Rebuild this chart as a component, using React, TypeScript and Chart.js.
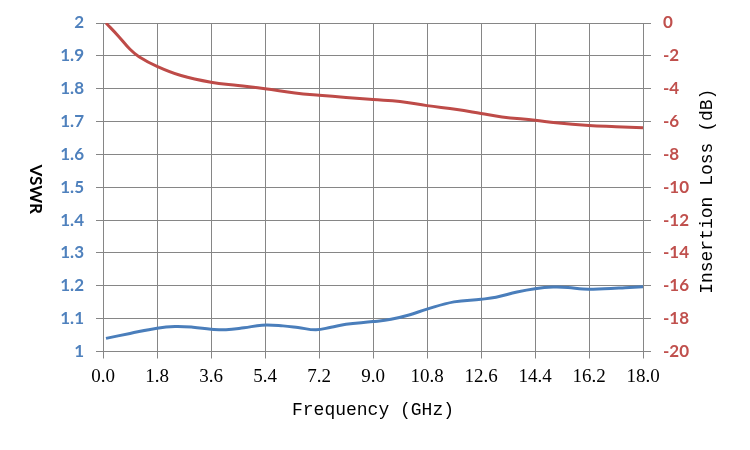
import React, { useEffect, useRef } from "react";
import { Chart, registerables } from "chart.js";

Chart.register(...registerables);

// X axis tick labels (GHz)
const xTicks = [0, 1.8, 3.6, 5.4, 7.2, 9.0, 10.8, 12.6, 14.4, 16.2, 18.0];
// Left axis ticks (VSWR)
const vswrTicks = [1, 1.1, 1.2, 1.3, 1.4, 1.5, 1.6, 1.7, 1.8, 1.9, 2];
// Right axis ticks (dB)
const ilTicks = [-20, -18, -16, -14, -12, -10, -8, -6, -4, -2, 0];

// Insertion loss series
const ilFreq = [0.1, 0.5, 0.9, 1.2, 1.8, 2.6, 3.6, 4.5, 5.4, 6.4, 7.2, 8.1, 9.0, 9.9, 10.8, 11.8, 12.6, 13.3, 14.4, 15.1, 16.2, 17.1, 18.0];
const ilValues = [0, -0.77, -1.6, -2.05, -2.64, -3.2, -3.61, -3.81, -4.0, -4.26, -4.4, -4.53, -4.66, -4.78, -5.03, -5.27, -5.51, -5.72, -5.92, -6.08, -6.24, -6.31, -6.38];

// VSWR series
const vswrFreq = [0.1, 0.9, 1.8, 2.4, 3.0, 3.6, 4.1, 4.7, 5.3, 6.0, 6.5, 7.1, 7.6, 8.1, 9.0, 9.6, 10.2, 10.8, 11.7, 12.6, 13.1, 13.8, 14.4, 15.0, 15.5, 16.0, 16.7, 17.4, 18.0];
const vswrValues = [1.04, 1.055, 1.071, 1.076, 1.074, 1.068, 1.066, 1.072, 1.08, 1.078, 1.073, 1.066, 1.074, 1.083, 1.091, 1.098, 1.111, 1.129, 1.151, 1.159, 1.165, 1.181, 1.191, 1.196, 1.195, 1.19, 1.191, 1.194, 1.197];

const xTitle = "Frequency (GHz)";
const leftTitle = "VSWR";
const rightTitle = "Insertion Loss (dB)";

const titlesPlugin = {
  id: "customTitles",
  afterDraw(chart: any) {
    const { ctx, chartArea } = chart;
    const midY = (chartArea.top + chartArea.bottom) / 2;
    ctx.save();
    ctx.fillStyle = "#000";
    ctx.textAlign = "center";
    ctx.textBaseline = "middle";
    // x title
    ctx.font = "18px 'Liberation Mono'";
    ctx.fillText(xTitle, (chartArea.left + chartArea.right) / 2, chartArea.bottom + 59);
    // left title, reads top to bottom
    ctx.save();
    ctx.translate(chartArea.left - 68, midY + 2);
    ctx.rotate(Math.PI / 2);
    ctx.font = "bold 17px Lato";
    ctx.fillText(leftTitle, 0, 0);
    ctx.restore();
    // right title, reads bottom to top
    ctx.save();
    ctx.translate(chartArea.right + 64, midY + 4);
    ctx.rotate(-Math.PI / 2);
    ctx.font = "18px 'Liberation Mono'";
    ctx.fillText(rightTitle, 0, 0);
    ctx.restore();
    ctx.restore();
  },
};

export default function App() {
  const ref = useRef<HTMLCanvasElement>(null);
  useEffect(() => {
    if (!ref.current) return;
    const grid = "#868686";
    const chart = new Chart(ref.current, {
      type: "line",
      data: {
        datasets: [
          {
            label: "Insertion Loss",
            data: ilFreq.map((f, i) => ({ x: f, y: ilValues[i] })),
            borderColor: "#BE4B48",
            borderWidth: 3,
            pointRadius: 0,
            tension: 0.4,
            yAxisID: "yR",
          },
          {
            label: "VSWR",
            data: vswrFreq.map((f, i) => ({ x: f, y: vswrValues[i] })),
            borderColor: "#4A7EBB",
            borderWidth: 3,
            pointRadius: 0,
            tension: 0.4,
            yAxisID: "yL",
          },
        ],
      },
      options: {
        animation: false,
        responsive: false,
        layout: { padding: { top: 23, left: 0, right: 0, bottom: 0 } },
        plugins: { legend: { display: false }, tooltip: { enabled: false } },
        scales: {
          x: {
            type: "linear",
            min: 0,
            max: 18,
            afterBuildTicks: (s: any) => {
              s.ticks = xTicks.map((v) => ({ value: v }));
            },
            afterFit: (s: any) => {
              s.height = 98.5;
            },
            ticks: {
              callback: (v: any) => Number(v).toFixed(1),
              font: { family: "'Liberation Serif'", size: 19 },
              color: "#000",
              padding: 7,
              maxRotation: 0,
              autoSkip: false,
            },
            grid: { color: grid, tickLength: 7, lineWidth: 1 },
            border: { color: grid },
          },
          yL: {
            type: "linear",
            position: "left",
            min: 1,
            max: 2,
            afterBuildTicks: (s: any) => {
              s.ticks = vswrTicks.map((v) => ({ value: v }));
            },
            afterFit: (s: any) => {
              s.width = 103;
            },
            ticks: {
              callback: (v: any) => String(Number(Number(v).toFixed(1))),
              font: { family: "Lato", size: 17, weight: "bold" },
              color: "#4F81BD",
              padding: 12,
            },
            grid: { color: grid, tickLength: 7, lineWidth: 1 },
            border: { color: grid },
          },
          yR: {
            type: "linear",
            position: "right",
            min: -20,
            max: 0,
            afterBuildTicks: (s: any) => {
              s.ticks = ilTicks.map((v) => ({ value: v }));
            },
            afterFit: (s: any) => {
              s.width = 107;
            },
            ticks: {
              font: { family: "Lato", size: 17, weight: "bold" },
              color: "#C0504D",
              padding: 12,
            },
            grid: { color: grid, tickLength: 8, drawOnChartArea: false, lineWidth: 1 },
            border: { color: grid },
          },
        },
      },
      plugins: [titlesPlugin],
    } as any);
    return () => chart.destroy();
  }, []);
  return (
    <div style={{ position: "fixed", left: 0, top: 0, width: 750, height: 450, background: "#fff" }}>
      <canvas ref={ref} width={750} height={450} />
    </div>
  );
}
